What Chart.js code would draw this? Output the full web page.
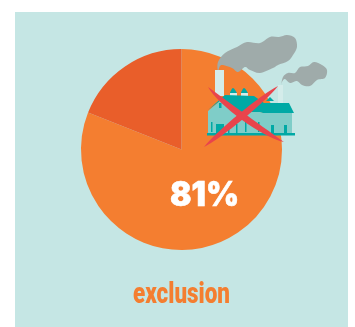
<!DOCTYPE html>
<html>

<head>
    <meta charset="utf-8">
    <script src="https://cdn.jsdelivr.net/npm/chart.js@4/dist/chart.umd.min.js"></script>
    <style>
        html, body { margin: 0; padding: 0; background: #fff; overflow: hidden; }
        #wrap { position: relative; width: 355px; height: 327px; }
        #panel { position: absolute; left: 15px; top: 12px; width: 333px; height: 315px; background: #c5e6e4; }
        #plot { position: absolute; left: 0; top: 0; }
    </style>
</head>

<body>
    <div id="wrap">
        <div id="panel"></div>
        <canvas id="plot" width="355" height="327"></canvas>
    </div>
    <script>
        var categories = ['exclusion', 'other']
        var values = [81, 19]
        var sliceColors = ['#f47e30', '#e95e2a']
        var chartTitle = 'exclusion'

        function blob(ctx, pts, color) {
            // closed catmull-rom outline through the points
            var n = pts.length
            ctx.fillStyle = color
            ctx.beginPath()
            ctx.moveTo(pts[0][0], pts[0][1])
            for (var i = 0; i < n; i++) {
                var p0 = pts[(i + n - 1) % n], p1 = pts[i], p2 = pts[(i + 1) % n], p3 = pts[(i + 2) % n]
                ctx.bezierCurveTo(
                    p1[0] + (p2[0] - p0[0]) / 6, p1[1] + (p2[1] - p0[1]) / 6,
                    p2[0] - (p3[0] - p1[0]) / 6, p2[1] - (p3[1] - p1[1]) / 6,
                    p2[0], p2[1])
            }
            ctx.closePath()
            ctx.fill()
        }

        function poly(ctx, pts, color) {
            ctx.fillStyle = color
            ctx.beginPath()
            ctx.moveTo(pts[0][0], pts[0][1])
            for (var i = 1; i < pts.length; i++) ctx.lineTo(pts[i][0], pts[i][1])
            ctx.closePath()
            ctx.fill()
        }

        // tapered stroke, fat in the middle and pointed at both ends, bent sideways by bow
        function taper(ctx, a, b, w, bow, color) {
            var dx = b[0] - a[0], dy = b[1] - a[1]
            var len = Math.sqrt(dx * dx + dy * dy)
            var ux = -dy / len, uy = dx / len
            var hi = bow + w, lo = bow - w
            ctx.fillStyle = color
            ctx.beginPath()
            ctx.moveTo(a[0], a[1])
            ctx.bezierCurveTo(a[0] + dx * 0.2 + ux * hi, a[1] + dy * 0.2 + uy * hi, a[0] + dx * 0.8 + ux * hi, a[1] + dy * 0.8 + uy * hi, b[0], b[1])
            ctx.bezierCurveTo(a[0] + dx * 0.8 + ux * lo, a[1] + dy * 0.8 + uy * lo, a[0] + dx * 0.2 + ux * lo, a[1] + dy * 0.2 + uy * lo, a[0], a[1])
            ctx.fill()
        }

        function drawFactory(ctx) {
            var smoke = '#9fabaa', teal = '#00a9a5', wall = '#7fcdc8', pale = '#d4ecea', red = '#e9444c'

            // smoke
            blob(ctx, [[218, 71], [218, 62], [225, 53], [237, 47], [247, 42], [260, 43], [270, 37], [279, 37], [287, 35], [295, 38], [297, 47], [293, 55], [288, 61], [278, 65], [273, 68], [260, 73], [250, 70], [245, 67], [238, 72], [232, 68], [223, 65], [220, 66]], smoke)
            blob(ctx, [[281, 86], [283, 77], [288, 73], [295, 73], [300, 67], [308, 66], [314, 62], [322, 65], [327, 70], [325, 78], [317, 80], [310, 86], [302, 85], [297, 81], [290, 83], [285, 79], [282, 82]], smoke)

            // chimneys
            poly(ctx, [[215, 70], [224, 70], [224, 96], [215, 96]], pale)
            poly(ctx, [[278, 85], [283, 85], [283, 103], [278, 103]], pale)

            // vents on the roof
            blob(ctx, [[230, 94], [233, 88], [237, 94]], teal)
            blob(ctx, [[241, 94], [244, 88], [248, 94]], teal)
            poly(ctx, [[230, 93], [237, 93], [237, 96], [230, 96]], pale)
            poly(ctx, [[241, 93], [248, 93], [248, 96], [241, 96]], pale)
            poly(ctx, [[266, 101], [270, 97], [274, 101]], teal)

            // roofs
            poly(ctx, [[208, 110], [225, 95], [254, 96], [264, 103], [289, 103], [294, 113], [263, 113], [258, 112], [237, 112], [220, 101]], teal)

            // walls
            poly(ctx, [[208, 111], [220, 101], [237, 112], [260, 112], [263, 113], [292, 113], [292, 134], [208, 134]], wall)

            // doors and windows
            ctx.fillStyle = teal
            var doors = [[211, 122, 1.5], [216, 124, 8], [228, 124, 1.5], [236, 124, 1.5], [245, 122, 1.5], [258, 122, 1.5], [271, 125, 3], [284, 125, 3]]
            doors.forEach(function (d) { ctx.fillRect(d[0], d[1], d[2], 10) })
            ctx.fillRect(219, 103, 2.5, 5)

            // base line
            poly(ctx, [[207, 133], [295, 133], [295, 135.5], [207, 135.5]], teal)

            // crossed-out strokes
            taper(ctx, [208, 87], [284, 142], 4.4, 4.5, red)
            taper(ctx, [278, 86], [204, 147], 4.4, 0, red)
        }

        var overlay = {
            id: 'overlay',
            afterDatasetsDraw: function (chart) {
                var ctx = chart.ctx
                ctx.save()
                drawFactory(ctx)

                ctx.textAlign = 'center'
                ctx.textBaseline = 'alphabetic'
                ctx.fillStyle = '#ffffff'
                ctx.strokeStyle = '#ffffff'
                ctx.lineWidth = 0.6
                ctx.font = '900 34px Inter'
                ctx.fillText(values[0] + '%', 204.5, 206, 69)
                ctx.strokeText(values[0] + '%', 204.5, 206, 69)

                ctx.fillStyle = sliceColors[0]
                ctx.font = '900 30px Roboto'
                ctx.fillText(chartTitle, 181.5, 303, 97)
                ctx.restore()
            }
        }

        new Chart(document.getElementById('plot'), {
            type: 'pie',
            data: {
                labels: categories,
                datasets: [{
                    data: values,
                    backgroundColor: sliceColors,
                    borderWidth: 0
                }]
            },
            options: {
                responsive: false,
                animation: false,
                layout: { padding: { left: 81, right: 73, top: 49, bottom: 77 } },
                plugins: {
                    legend: { display: false },
                    tooltip: { enabled: false }
                }
            },
            plugins: [overlay]
        })
    </script>
</body>

</html>
